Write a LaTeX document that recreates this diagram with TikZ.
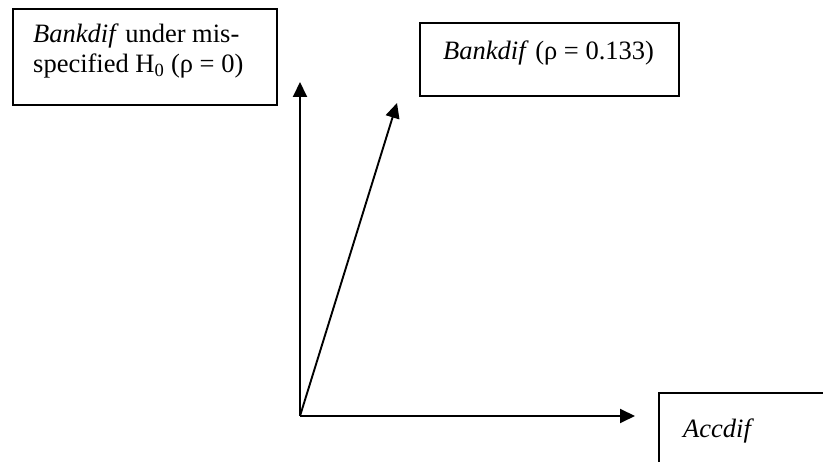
\documentclass[tikz,border=0pt]{standalone}
\usepackage{fontspec}
\setmainfont{Liberation Serif}
\usetikzlibrary{arrows.meta}
\tikzset{
  frame/.style={draw, line width=1.8pt, rectangle, inner sep=0pt, anchor=north west},
  lbl/.style={anchor=base west, inner sep=0pt, align=left, font=\fontsize{26.5}{30.3}\selectfont},
  axis/.style={line width=1.9pt, -{Triangle[length=15pt,width=14pt]}, shorten >=0pt}
}
\begin{document}
\begin{tikzpicture}[x=1pt,y=-1pt]
\clip (0,0) rectangle (823,462);
\fill[white] (0,0) rectangle (823,462);
% boxes
\node[frame, minimum width=264pt, minimum height=96pt] (b1) at (12,8) {};
\node[frame, minimum width=259pt, minimum height=73pt] (b2) at (419,22) {};
\node[frame, minimum width=200pt, minimum height=100pt] (b3) at (658,392) {};
% labels (anchor is the baseline of the last line)
\node[lbl] (t1) at (33,73) {\textit{Bankdif} under mis-\\specified H\textsubscript{0} (ρ = 0)};
\node[lbl] (t2) at (443,59.3) {\textit{Bankdif} (ρ = 0.133)};
\node[lbl] (t3) at (683,437.7) {\textit{Accdif}};
% axes
\coordinate (o) at (300,416);
\coordinate (ytip) at (300,82);
\coordinate (xtip) at (635,416);
\coordinate (dtip) at (397,103);
\draw[axis] (o) -- (ytip);
\draw[axis] (o) -- (xtip);
\draw[axis] (o) -- (dtip);
\end{tikzpicture}
\end{document}
